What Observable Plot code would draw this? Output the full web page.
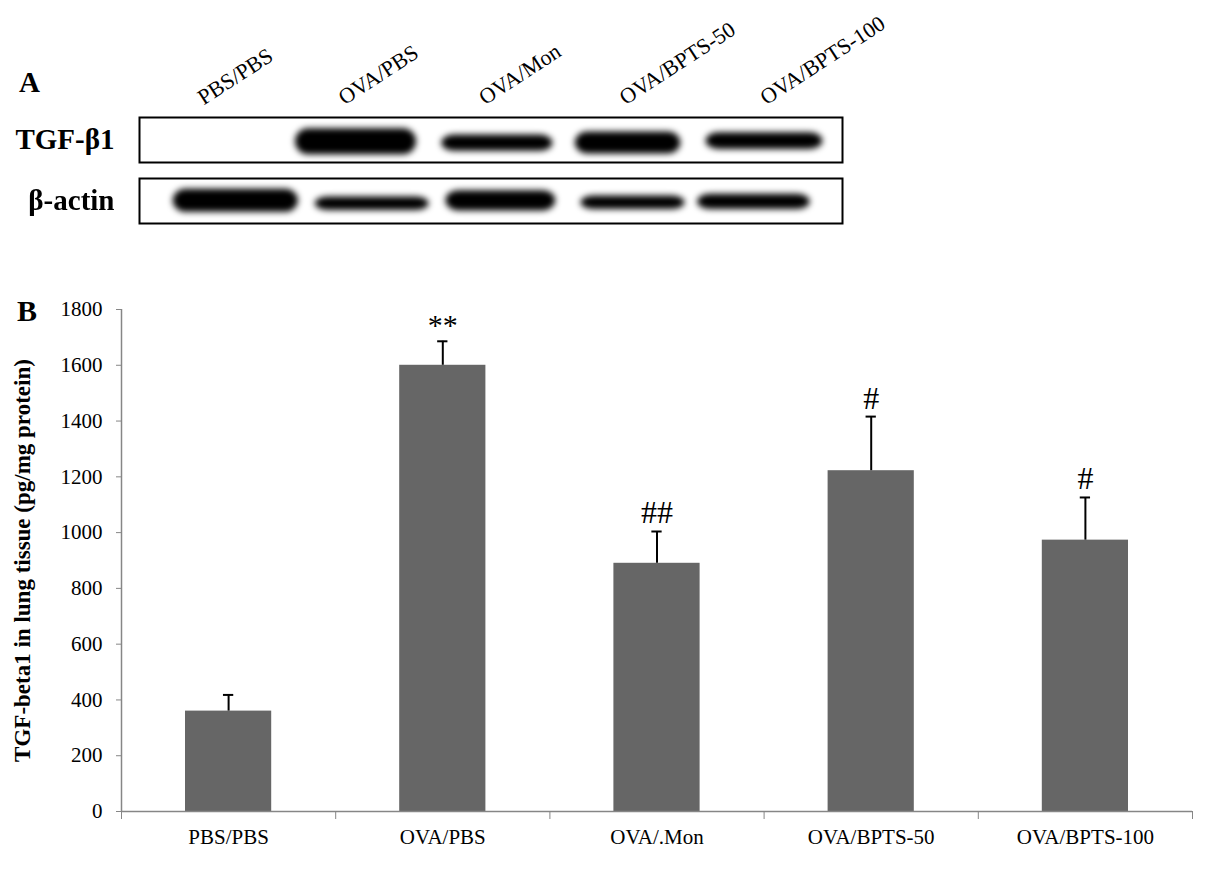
<!DOCTYPE html>
<html>
<head>
<meta charset="utf-8">
<script src="https://cdn.jsdelivr.net/npm/d3@7"></script>
<script src="https://cdn.jsdelivr.net/npm/@observablehq/plot@0.6"></script>
<style>
  body { margin: 0; background: white; }
  #wrap { position: relative; width: 1205px; height: 870px; overflow: hidden; background: white; }
  .panel-letter { position: absolute; font-family: 'Liberation Serif', 'Times New Roman', serif; font-weight: bold; line-height: 1; color: black; }
  svg { display: block; }
</style>
</head>
<body>
<div id="wrap">
  <div class="panel-letter" style="left:19px; top:68px; font-size:29px;">A</div>
  <div class="panel-letter" style="left:17px; top:296px; font-size:30px;">B</div>
  <div id="blot"></div>
  <div id="bars"></div>
</div>
<script>
// ---------- Panel A: western blot ----------
const lanes = ["PBS/PBS", "OVA/PBS", "OVA/Mon", "OVA/BPTS-50", "OVA/BPTS-100"];
const blotRows = ["TGF-β1", "β-actin"];
// band extents: lane units (0..5) horizontally, relative row height (0 top .. 1 bottom) vertically
const tgfStart  = [1.11, 2.15, 3.10, 4.03];
const tgfEnd    = [1.97, 2.94, 3.85, 4.86];
const tgfTop    = [0.25, 0.39, 0.32, 0.34];
const tgfBottom = [0.83, 0.75, 0.81, 0.71];
const actStart  = [0.24, 1.25, 2.18, 3.14, 3.97];
const actEnd    = [1.13, 2.06, 2.96, 3.88, 4.77];
const actTop    = [0.24, 0.41, 0.27, 0.39, 0.35];
const actBottom = [0.75, 0.71, 0.72, 0.69, 0.69];

// ---------- Panel B: bar chart ----------
const groups = ["PBS/PBS", "OVA/PBS", "OVA/.Mon", "OVA/BPTS-50", "OVA/BPTS-100"];
const means  = [360, 1600, 890, 1222, 973];
const errors = [58, 86, 114, 194, 153];
const signif = ["", "**", "##", "#", "#"];
const yTicks = [0, 200, 400, 600, 800, 1000, 1200, 1400, 1600, 1800];
const yLabel = "TGF-beta1 in lung tissue (pg/mg protein)";

const serif = "'Liberation Serif', 'Times New Roman', serif";

const bands = [
  ...tgfStart.map((s, i) => ({row: blotRows[0], x1: s, x2: tgfEnd[i], y1: tgfTop[i], y2: tgfBottom[i]})),
  ...actStart.map((s, i) => ({row: blotRows[1], x1: s, x2: actEnd[i], y1: actTop[i], y2: actBottom[i]}))
];
const laneData = lanes.map((name, i) => ({name, pos: i + 0.5, row: blotRows[0]}));

const blot = Plot.plot({
  width: 1205, height: 250,
  marginLeft: 139, marginRight: 363, marginTop: 117, marginBottom: 27,
  style: {fontFamily: serif, color: "black", background: "white"},
  x: {domain: [0, 5], axis: null},
  y: {domain: [0, 1], reverse: true, axis: null},
  fy: {domain: blotRows, paddingInner: 0.27, paddingOuter: 0, label: null},
  marks: [
    Plot.rect(bands, {x1: "x1", x2: "x2", y1: "y1", y2: "y2", fy: "row", fill: "black", rx: 13}),
    Plot.frame({stroke: "black", strokeWidth: 2}),
    Plot.text(laneData, {x: "pos", y: 0, fy: "row", text: "name", rotate: -33, textAnchor: "start",
      lineAnchor: "bottom", dx: -6, dy: -12, fontSize: 22, fill: "black"}),
    Plot.axisFy({anchor: "left", tickSize: 0, tickPadding: 25, fontSize: 29, fontWeight: "bold", label: null})
  ]
});
// soften bands like a scanned blot
const ns = "http://www.w3.org/2000/svg";
const defs = document.createElementNS(ns, "defs");
defs.innerHTML = '<filter id="bandblur" x="-20%" y="-80%" width="140%" height="260%"><feGaussianBlur stdDeviation="3"/></filter>';
blot.insertBefore(defs, blot.firstChild);
blot.querySelectorAll('g[aria-label="rect"]').forEach(g => g.setAttribute("filter", "url(#bandblur)"));
document.getElementById("blot").appendChild(blot);

const data = groups.map((g, i) => ({g, i, mean: means[i], err: errors[i], top: means[i] + errors[i], sig: signif[i]}));

const bars = Plot.plot({
  width: 1205, height: 620,
  marginLeft: 121, marginRight: 13, marginTop: 59, marginBottom: 59,
  style: {fontFamily: serif, color: "black", background: "white"},
  x: {domain: [0, 5], axis: null},
  y: {domain: [0, 1800], axis: null},
  marks: [
    Plot.rectY(data, {x1: d => d.i, x2: d => d.i + 1, y: "mean", insetLeft: 64, insetRight: 64, fill: "#666666"}),
    Plot.ruleX(data, {x: d => d.i + 0.5, y1: "mean", y2: "top", stroke: "black", strokeWidth: 2}),
    Plot.ruleY(data, {y: "top", x1: d => d.i + 0.5 - 0.024, x2: d => d.i + 0.5 + 0.024, stroke: "black", strokeWidth: 2}),
    Plot.ruleX([0], {stroke: "#868686", strokeWidth: 1.5}),
    Plot.ruleY([0], {stroke: "#868686", strokeWidth: 1.5}),
    Plot.axisY({ticks: yTicks, tickFormat: d => String(d), tickSize: 5, tickPadding: 14,
      stroke: "#868686", fill: "black", fontSize: 21, label: null}),
    Plot.axisX({ticks: [0, 1, 2, 3, 4, 5], tickFormat: () => "", tickSize: 8, stroke: "#868686", label: null}),
    Plot.axisX({ticks: groups.map((_, i) => i + 0.5), tickFormat: d => groups[Math.floor(d)], tickSize: 0,
      tickPadding: 18, fill: "black", fontSize: 21, label: null}),
    Plot.text(data.filter(d => d.sig === "**"), {x: d => d.i + 0.5, y: "top", text: "sig", fontSize: 30,
      lineAnchor: "bottom", dy: -6, fill: "black"}),
    Plot.text(data.filter(d => d.sig.startsWith("#")), {x: d => d.i + 0.5, y: "top", text: "sig", fontSize: 32,
      lineAnchor: "bottom", dy: -8, fill: "black"}),
    Plot.text([yLabel], {frameAnchor: "left", textAnchor: "middle", dx: -99, rotate: -90, fontSize: 23,
      fontWeight: "bold", fill: "black"})
  ]
});
document.getElementById("bars").appendChild(bars);
</script>
</body>
</html>
